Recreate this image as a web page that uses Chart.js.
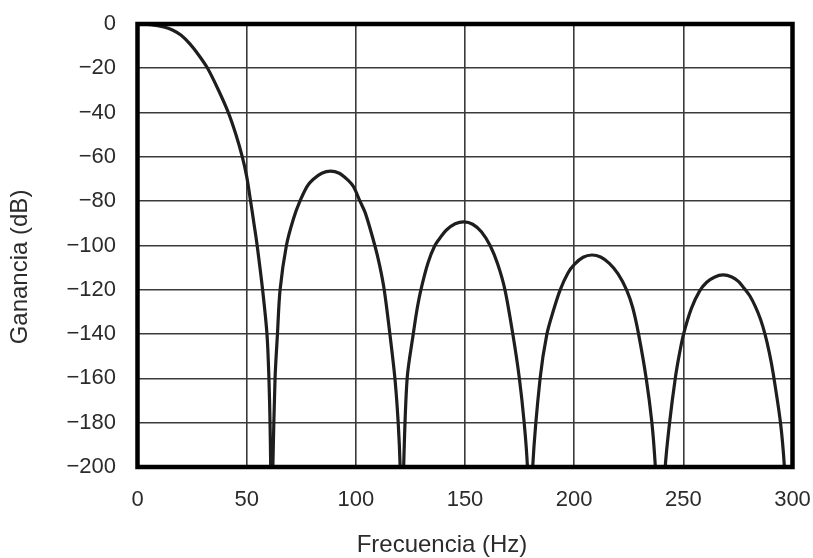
<!DOCTYPE html>
<html>
<head>
<meta charset="utf-8">
<script src="https://cdn.jsdelivr.net/npm/chart.js@4.4.1/dist/chart.umd.min.js"></script>
<style>
  body { margin: 0; background: #fff; }
  canvas { display: block; }
</style>
</head>
<body>
<canvas id="gainChart" width="813" height="558"></canvas>
<script>
// Values (frequency in Hz, gain in dB), one lobe per array.
// The -240 points sit below the axis floor so the nulls run off the bottom.
const lobe0Hz = [0, 6, 12, 16, 20, 24, 28, 32.1, 37, 41.6, 45, 48.0, 50, 51.8, 53.4, 54.8, 57.3, 59.3, 60.2, 60.7, 61.0, 61.3];
const lobe0Db = [0, -0.3, -1.3, -2.7, -5.1, -9, -14, -20, -29.7, -40, -49.7, -60, -68.8, -80, -90.5, -100, -120, -140, -160, -180, -200, -240];

const lobe1Hz = [62.0, 63.0, 64.1, 65.3, 68.2, 71.4, 74.4, 77.7, 80.4, 84.4, 88.4, 92.4, 96.4, 98.9, 101.9, 104.4, 108.7, 110.9, 113.0, 115.6, 117.9, 119.4, 120.3, 121.1];
const lobe1Db = [-200, -160, -140, -120, -100, -88, -80, -73.3, -70.2, -67.4, -66.4, -67.4, -70.5, -73.4, -80, -85.5, -100, -109, -120, -140, -160, -180, -200, -240];

const lobe2Hz = [121.9, 123.5, 126.3, 128, 129.8, 133, 136.2, 139, 141.5, 145.5, 149.5, 153.5, 157.5, 161.5, 165, 168.3, 171.9, 174.9, 177.1, 178.6, 179.8];
const lobe2Db = [-200, -160, -140, -129, -120, -108, -100, -96, -93, -90.2, -89.3, -90.4, -93.8, -100, -108.5, -120, -140, -160, -180, -200, -240];

const lobe3Hz = [181.0, 184.4, 187.5, 190.6, 193.6, 197.1, 200.1, 204.1, 208.1, 212.1, 216.1, 220.1, 224.0, 226.8, 229.5, 233.0, 235.6, 237.2, 239.5];
const lobe3Db = [-200, -160, -140, -129, -120, -112.5, -108.5, -105.3, -104.3, -105.2, -108.1, -112.8, -120, -128, -140, -160, -180, -200, -240];

const lobe4Hz = [241.7, 243.7, 246.3, 248.1, 250.1, 253.7, 257.5, 260.7, 264.2, 268.2, 272.2, 275.2, 278.4, 280.5, 283, 285.3, 287.4, 289.4, 291.2, 294.5, 296.3, 298.5];
const lobe4Db = [-200, -180, -160, -149.5, -140, -128.4, -120.5, -116.6, -114.3, -113.3, -114.2, -116.2, -120, -122.8, -127.6, -133.2, -140, -148.5, -158, -180, -200, -240];

const xTicks = [0, 50, 100, 150, 200, 250, 300];
const yTicks = [0, -20, -40, -60, -80, -100, -120, -140, -160, -180, -200];

const xTitle = "Frecuencia (Hz)";
const yTitle = "Ganancia (dB)";

const freqHz = [].concat(lobe0Hz, lobe1Hz, lobe2Hz, lobe3Hz, lobe4Hz);
const gainDb = [].concat(lobe0Db, lobe1Db, lobe2Db, lobe3Db, lobe4Db);
const points = freqHz.map((f, i) => ({ x: f, y: gainDb[i] }));

const FONT = "'Liberation Sans', Arial, Helvetica, sans-serif";
const TEXT = "#2b2b2b";

// heavy frame round the plot area + the two axis titles
const framePlugin = {
  id: "frame",
  afterDatasetsDraw(chart) {
    const { ctx, chartArea: a } = chart;
    ctx.save();
    ctx.strokeStyle = "#000";
    ctx.lineWidth = 4.5;
    ctx.strokeRect(a.left, a.top, a.right - a.left, a.bottom - a.top);
    ctx.restore();
  },
  afterDraw(chart) {
    const ctx = chart.ctx;
    ctx.save();
    ctx.fillStyle = TEXT;
    ctx.font = "24px " + FONT;
    ctx.textAlign = "center";
    ctx.textBaseline = "middle";
    ctx.fillText(xTitle, 442, 545);
    ctx.translate(20, 267);
    ctx.rotate(-Math.PI / 2);
    ctx.fillText(yTitle, 0, 0);
    ctx.restore();
  },
};

const fmt = (v) => (v < 0 ? "\u2212" + Math.abs(v) : String(v));

// tick marks are invisible; their length just pushes the labels out
// (ticks.padding would also widen the plot margins)
new Chart(document.getElementById("gainChart"), {
  type: "line",
  data: {
    datasets: [
      {
        data: points,
        borderColor: "#1e1e1e",
        borderWidth: 3.2,
        pointRadius: 0,
        fill: false,
        tension: 0.3,
      },
    ],
  },
  options: {
    responsive: false,
    animation: false,
    layout: { padding: { top: 24, right: 20.5, left: 0, bottom: 0 } },
    plugins: {
      legend: { display: false },
      tooltip: { enabled: false },
    },
    scales: {
      x: {
        type: "linear",
        min: 0,
        max: 300,
        afterBuildTicks: (s) => { s.ticks = xTicks.map((v) => ({ value: v })); },
        afterFit: (s) => { s.height = 91; },
        grid: { color: "#3a3a3a", lineWidth: 1.6, drawTicks: true, tickLength: 20, tickColor: "rgba(0,0,0,0)" },
        border: { display: false },
        ticks: {
          padding: 0,
          color: TEXT,
          font: { family: FONT, size: 22 },
          maxRotation: 0,
          callback: (v) => fmt(v),
        },
      },
      y: {
        type: "linear",
        min: -200,
        max: 0,
        afterBuildTicks: (s) => { s.ticks = yTicks.map((v) => ({ value: v })); },
        afterFit: (s) => { s.width = 137.5; },
        grid: { color: "#3a3a3a", lineWidth: 1.6, drawTicks: true, tickLength: 21.5, tickColor: "rgba(0,0,0,0)" },
        border: { display: false },
        ticks: {
          padding: 0,
          color: TEXT,
          font: { family: FONT, size: 22 },
          callback: (v) => fmt(v),
        },
      },
    },
  },
  plugins: [framePlugin],
});
</script>
</body>
</html>
